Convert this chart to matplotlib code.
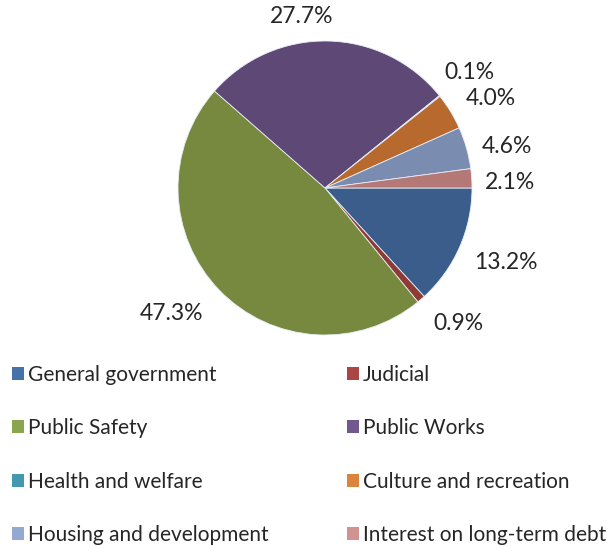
import numpy as np
import matplotlib.pyplot as plt
from matplotlib.patches import Patch

# Данні
categories = ['General government', 'Judicial', 'Public Safety', 'Public Works',
              'Health and welfare', 'Culture and recreation',
              'Housing and development', 'Interest on long-term debt']
shares = [13.2, 0.9, 47.3, 27.7, 0.1, 4.0, 4.6, 2.1]

# кольори секторів (темніші) і легенди (світліші)
pie_colors = ['#3A5D8B', '#8E3B37', '#77893F', '#5E4876', '#2F7F95',
              '#B8692E', '#7A8DB0', '#B47876']
legend_colors = ['#4572A7', '#AA4643', '#89A54E', '#71588F', '#4198AF',
                 '#DB843D', '#93A9CF', '#D19392']
# розміщення підписів: відстань (у радіусах) і зсув кута (градуси)
label_dist = [1.33, 1.29, 1.35, 1.18, 1.26, 1.28, 1.27, 1.26]
label_shift = [1.5, 3.7, -4.6, 9.0, 0.0, -3.0, -3.0, -2.0]

plt.rcParams['font.family'] = ['Lato', 'DejaVu Sans']

fig = plt.figure(figsize=(6.11, 5.46), dpi=100)
ax = fig.add_axes([178 / 611, (546 - 335) / 546, 294 / 611, 294 / 546])

wedges, texts, autotexts = ax.pie(
    shares, colors=pie_colors, startangle=0, counterclock=False,
    autopct='%1.1f%%', pctdistance=1.27, radius=1,
    wedgeprops=dict(edgecolor='#E8EEF5', linewidth=0.6),
    textprops=dict(fontsize=16.5, color='#262626'))
for w, t, d, s in zip(wedges, autotexts, label_dist, label_shift):
    ang = np.deg2rad((w.theta1 + w.theta2) / 2 + s)
    t.set_position((d * np.cos(ang), d * np.sin(ang)))
ax.set_xlim(-1, 1)
ax.set_ylim(-1, 1)
ax.set_aspect('equal')

# легенда у два стовпці, порядок по рядках
left_idx = [0, 2, 4, 6]
right_idx = [1, 3, 5, 7]
for idx, x0 in [(left_idx, -2.6 / 611), (right_idx, 332.4 / 611)]:
    handles = [Patch(facecolor=legend_colors[i], edgecolor='none') for i in idx]
    labels = [categories[i] for i in idx]
    leg = fig.legend(handles, labels, loc='upper left',
                     bbox_to_anchor=(x0, (546 - 350.3) / 546),
                     frameon=False, fontsize=15, handlelength=0.58,
                     handleheight=0.58, handletextpad=0.2,
                     labelspacing=1.6, borderaxespad=0.3)
    for t in leg.get_texts():
        t.set_color('#262626')

fig.savefig('out.png', dpi=100)
